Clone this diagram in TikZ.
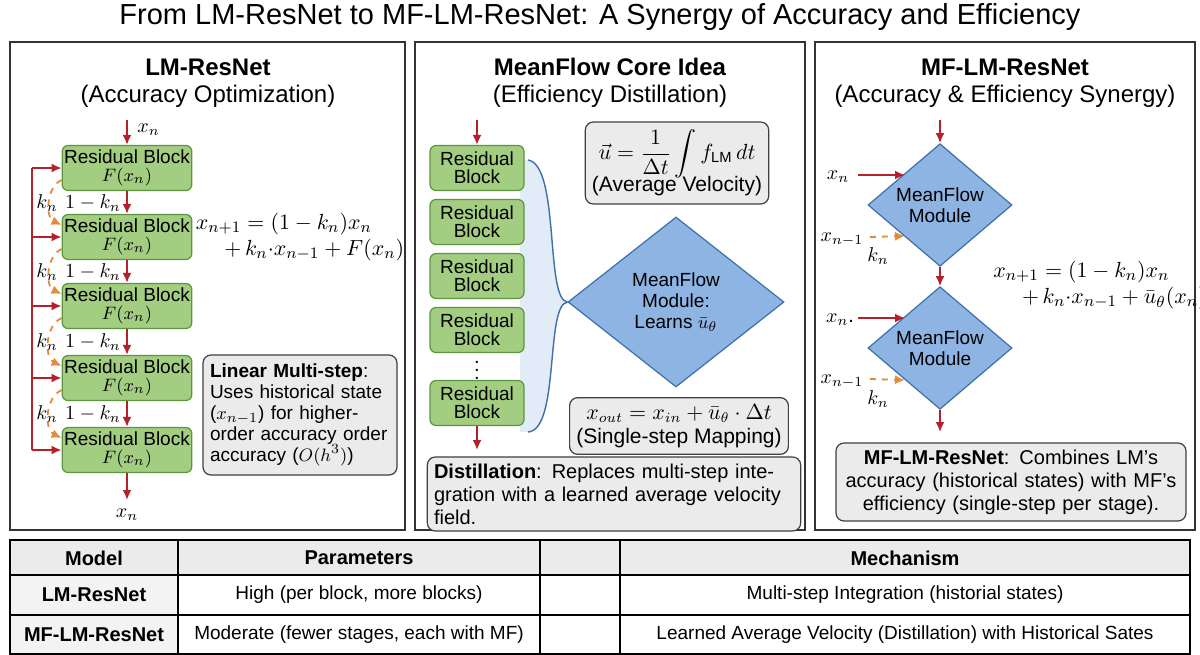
\documentclass[tikz,border=0pt]{standalone}
\usepackage{amsmath}
\usepackage{fontspec}
\setmainfont{Liberation Sans}
\usetikzlibrary{shapes.geometric,arrows.meta,calc}
\definecolor{gfill}{HTML}{A3CD80}
\definecolor{gdraw}{HTML}{5E9440}
\definecolor{bfill}{HTML}{8DB4E2}
\definecolor{bdraw}{HTML}{3D6FA8}
\definecolor{ared}{HTML}{B5212A}
\definecolor{aor}{HTML}{E38B3A}
\definecolor{boxg}{HTML}{EBEBEB}
\begin{document}
\begin{tikzpicture}[x=0.5pt,y=-0.5pt,
  panel/.style={draw=black!80,line width=0.6pt},
  blk/.style={draw=gdraw,fill=gfill,rounded corners=3pt,line width=0.6pt,minimum width=64pt,minimum height=22.5pt,align=center,inner sep=1pt,font=\fontsize{9.5}{10}\selectfont},
  mblk/.style={blk,minimum width=47pt},
  dia/.style={diamond,draw=bdraw,fill=bfill,line width=0.6pt,align=center,inner sep=0pt,font=\fontsize{9.5}{10.5}\selectfont},
  gbox/.style={draw=black!75,fill=boxg,rounded corners=4pt,line width=0.6pt,align=left,font=\fontsize{9.5}{10.5}\selectfont},
  arr/.style={draw=ared,line width=0.9pt,-{Latex[length=5pt,width=4.5pt]}},
  darr/.style={draw=aor,line width=0.9pt,dashed,-{Latex[length=5pt,width=4.5pt]}},
  ttl/.style={font=\fontsize{12}{13}\selectfont\bfseries},
  sub/.style={font=\fontsize{12}{13}\selectfont},
  lab/.style={font=\fontsize{10}{11}\selectfont,inner sep=1pt},
  tab/.style={font=\fontsize{9.5}{10}\selectfont}
]
\useasboundingbox (0,0) rectangle (1200,654);
\fill[white] (0,0) rectangle (1200,654);
\node[font=\fontsize{14.5}{15}\selectfont] (title) at (600,17) {From LM-ResNet to MF-LM-ResNet: A Synergy of Accuracy and Efficiency};
% panels
\draw[panel] (10,42) rectangle (405,530);
\draw[panel] (415,42) rectangle (805,530);
\draw[panel] (815,42) rectangle (1195,530);
\node[ttl] (t1) at (208,67) {LM-ResNet};
\node[sub] (s1) at (208,96) {(Accuracy Optimization)};
\node[ttl] (t2) at (610,67) {MeanFlow Core Idea};
\node[sub] (s2) at (610,96) {(Efficiency Distillation)};
\node[ttl] (t3) at (1005,67) {MF-LM-ResNet};
\node[sub] (s3) at (1005,96) {(Accuracy \& Efficiency Synergy)};
% ---- left panel
\foreach \i/\y in {1/168,2/237,3/306,4/378,5/450}{
  \node[blk] (b\i) at (127,\y) {Residual Block\\[-1pt]$F(x_n)$};
  \coordinate (bus\i) at (32,\y);
}
\coordinate (lin) at (127,120);
\coordinate (lout) at (127,500);
\draw[arr] (lin) -- (b1.north);
\node[lab,anchor=west] (lxn) at (135,130) {$x_n$};
\draw[arr] (b5.south) -- (lout);
\node[lab] (lxo) at (127,515) {$x_n$};
\draw[ared,line width=0.9pt] (bus1) -- (bus5);
\foreach \i in {1,...,5}{\draw[arr] (bus\i) -- (b\i.west);}
\foreach \i/\j in {1/2,2/3,3/4,4/5}{
  \draw[arr] (b\i.south) -- (b\j.north);
  \draw[darr] ([yshift=-6pt]b\i.west) to[out=205,in=155] ([yshift=6pt]b\j.west);
}
\foreach \y in {203,272,342,414}{
  \node[lab] at (47,\y) {$k_n$};
  \node[lab] at (93,\y) {$1-k_n$};
}
\node[font=\fontsize{11}{13}\selectfont,align=left] (eq1) at (300,237) {$x_{n+1}=(1-k_n)x_n$\\ \hspace{1.3em}$+\,k_n{\cdot}x_{n-1}+F(x_n)$};
\node[gbox,minimum width=97pt,minimum height=60pt,text width=90pt] (lms) at (300,415) {\textbf{Linear Multi-step}:\\Uses historical state ($x_{n-1}$) for higher-order accuracy order accuracy ($O(h^3)$)};
% ---- middle panel
\node[dia,minimum width=108pt,minimum height=85pt] (dm) at (676,302) {MeanFlow\\Module:\\Learns $\bar u_\theta$};
\coordinate (br1) at (528,160);
\coordinate (br2) at (528,432);
\fill[bfill!25] (br1) .. controls (560,165) and (545,300) .. (dm.west) .. controls (545,305) and (560,430) .. (br2) -- (520,432) -- (520,160) -- cycle;
\draw[bdraw,line width=0.7pt] (br1) .. controls (560,165) and (545,300) .. (dm.west) .. controls (545,305) and (560,430) .. (br2);
\foreach \i/\y in {1/168,2/222,3/276,4/330,5/403}{
  \node[mblk] (m\i) at (477,\y) {Residual\\[-1pt]Block};
}
\node[font=\fontsize{10}{10}\selectfont] (dots) at (477,364) {$\vdots$};
\coordinate (min) at (477,120);
\coordinate (mout) at (477,450);
\draw[arr] (min) -- (m1.north);
\draw[arr] (m5.south) -- (mout);
\node[gbox,align=center,minimum width=85pt,minimum height=41pt,font=\fontsize{10.5}{12}\selectfont] (avg) at (677,163) {$\vec u=\dfrac{1}{\Delta t}\displaystyle\int f_{\mathrm{LM}}\,dt$\\[-2pt](Average Velocity)};
\node[gbox,align=center,minimum width=101pt,minimum height=28pt,font=\fontsize{10.5}{12}\selectfont] (ssm) at (679,426) {$x_{out}=x_{in}+\bar u_\theta\cdot\Delta t$\\(Single-step Mapping)};
\node[gbox,minimum width=186pt,minimum height=24pt,text width=180pt,font=\fontsize{10}{11.5}\selectfont] (dist) at (614,494) {\textbf{Distillation}: Replaces multi-step integration with a learned average velocity field.};
% ---- right panel
\node[dia,minimum width=72pt,minimum height=55pt] (d1) at (940,205) {MeanFlow\\Module};
\node[dia,minimum width=72pt,minimum height=55pt] (d2) at (940,348) {MeanFlow\\Module};
\coordinate (rin) at (940,120);
\coordinate (rout) at (940,432);
\draw[arr] (rin) -- (d1.north);
\draw[arr] (d1.south) -- (d2.north);
\draw[arr] (d2.south) -- (rout);
\node[lab] (x1) at (838,177) {$x_n$};
\coordinate (x1e) at (905,175);
\draw[arr] ([xshift=3pt,yshift=1pt]x1.east) -- (x1e);
\node[lab] (xm1) at (842,240) {$x_{n-1}$};
\coordinate (xm1e) at (905,236);
\draw[darr] ([xshift=2pt,yshift=1.5pt]xm1.east) -- (xm1e);
\node[lab] at (878,256) {$k_n$};
\node[lab] (x2) at (840,320) {$x_{n}$.};
\coordinate (x2e) at (905,318);
\draw[arr] ([xshift=1pt,yshift=1pt]x2.east) -- (x2e);
\node[lab] (xm2) at (842,382) {$x_{n-1}$};
\coordinate (xm2e) at (905,380);
\draw[darr] ([xshift=2pt,yshift=1.5pt]xm2.east) -- (xm2e);
\node[lab] at (878,399) {$k_n$};
\node[font=\fontsize{11}{13}\selectfont,align=left] (eq2) at (1100,285) {$x_{n+1}=(1-k_n)x_n$\\ \hspace{1.3em}$+\,k_n{\cdot}x_{n-1}+\bar u_\theta(x_n)$};
\node[gbox,minimum width=175pt,minimum height=36pt,text width=168pt,align=center,font=\fontsize{10}{11.5}\selectfont] (syn) at (1011,482) {\textbf{MF-LM-ResNet}: Combines LM's accuracy (historical states) with MF's efficiency (single-step per stage).};
% ---- table
\fill[boxg] (10,540) rectangle (1190,575);
\fill[boxg!60] (10,575) rectangle (178,654);
\draw[line width=0.7pt] (10,540) rectangle (1190,654);
\draw[line width=0.7pt] (10,575) -- (1190,575);
\draw[line width=0.7pt] (10,615) -- (1190,615);
\foreach \x in {178,540,620}{\draw[line width=0.6pt] (\x,540) -- (\x,654);}
\node[tab,font=\fontsize{10}{11}\selectfont\bfseries] (h1) at (94,558) {Model};
\node[tab,font=\fontsize{10}{11}\selectfont\bfseries] (h2) at (359,558) {Parameters};
\node[tab,font=\fontsize{10}{11}\selectfont\bfseries] (h3) at (905,558) {Mechanism};
\node[tab,font=\fontsize{10}{11}\selectfont\bfseries] (r1) at (94,595) {LM-ResNet};
\node[tab] (r1b) at (359,595) {High (per block, more blocks)};
\node[tab] (r1c) at (905,595) {Multi-step Integration (historial states)};
\node[tab,font=\fontsize{10}{11}\selectfont\bfseries] (r2) at (94,635) {MF-LM-ResNet};
\node[tab] (r2b) at (359,635) {Moderate (fewer stages, each with MF)};
\node[tab] (r2c) at (905,635) {Learned Average Velocity (Distillation) with Historical Sates};
\end{tikzpicture}
\end{document}
